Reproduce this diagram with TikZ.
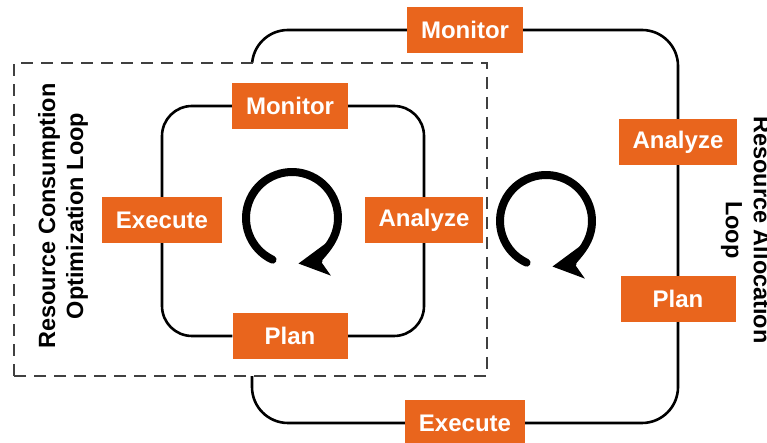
\documentclass[tikz,border=0pt]{standalone}
\usepackage{fontspec}
\setmainfont{Liberation Sans}
\usetikzlibrary{arrows.meta,backgrounds,calc,positioning}
\definecolor{phaseorange}{RGB}{233,101,29}

\begin{document}
\begin{tikzpicture}[x=1pt, y=1pt,
    phase/.style={fill=phaseorange, draw=none, text=white, inner xsep=14pt,
      minimum width=115pt, minimum height=46pt,
      font=\bfseries\fontsize{24}{28}\selectfont},
    looptitle/.style={align=center, font=\bfseries\fontsize{23.5}{28}\selectfont},
    loopline/.style={draw=black, line width=2.6pt},
    turnarrow/.style={line width=8pt, line cap=round,
      -{Stealth[length=30pt, width=32pt, inset=8pt]}}]
\useasboundingbox (0,0) rectangle (767,443);
% outer loop
\node [phase] (om) at (465,413) {Monitor};
\node [phase] (oa) at (678,301) {Analyze};
\node [phase] (op) at (678,144) {Plan};
\node [phase] (oe) at (465,20) {Execute};
\coordinate (ol) at (252,222);
% inner loop
\node [phase] (im) at (290,337) {Monitor};
\node [phase] (ia) at (424,223) {Analyze};
\node [phase] (ip) at (290,107) {Plan};
\node [phase] (ie) at (162,223) {Execute};
% loop titles
\node [looptitle, rotate=90] (rcol) at (63,227) {Resource Consumption\\Optimization Loop};
\node [looptitle, rotate=-90] (ral) at (746,213) {Resource Allocation\\Loop};
\begin{scope}[on background layer]
\draw [loopline, rounded corners=36pt] (om) -| (oa) -- (op) |- (oe) -| (ol) |- (om);
\draw [dashed, dash pattern=on 12pt off 8pt, line width=2pt, draw=black!75, fill=white]
  (14,67) rectangle (487,380);
\draw [loopline, rounded corners=30pt] (im) -| (ia) |- (ip) -| (ie) |- (im);
\end{scope}
% turning arrows
\coordinate (ic) at (292,225);
\coordinate (oc) at (546,222);
\draw [turnarrow] (ic) ++(245:46) arc [start angle=245, end angle=-82, radius=46];
\draw [turnarrow] (oc) ++(245:46) arc [start angle=245, end angle=-82, radius=46];
\end{tikzpicture}
\end{document}
